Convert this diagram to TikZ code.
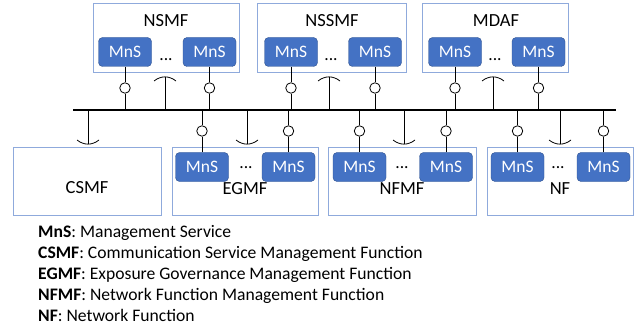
\documentclass[tikz,border=0pt]{standalone}
\usepackage{fontspec}
\setmainfont{Carlito}
\definecolor{boxline}{RGB}{143,170,220}
\definecolor{mnsfill}{RGB}{68,114,196}
\definecolor{mnsline}{RGB}{47,82,143}
\begin{document}
\begin{tikzpicture}[x=1pt,y=-1pt,
  outerbox/.style={draw=boxline,line width=1pt,fill=white},
  mns/.style={draw=mnsline,fill=mnsfill,rounded corners=4pt,minimum width=53pt,minimum height=29pt,text=white,font=\fontsize{17.5}{20}\selectfont,inner sep=0pt},
  lbl/.style={font=\fontsize{18.5}{21}\selectfont,inner sep=0pt},
  dotsl/.style={font=\fontsize{17.5}{20}\selectfont,inner sep=0pt},
  prov/.style={draw,circle,fill=white,minimum size=10.5pt,inner sep=0pt,line width=0.8pt},
  conn/.style={line width=0.8pt},
  legend/.style={anchor=base west,font=\fontsize{17.6}{20}\selectfont,inner sep=0pt}]
\useasboundingbox (0,0) rectangle (644,331);
% outer boxes
\node[outerbox,minimum width=146pt,minimum height=69pt,anchor=north west] (nsmf) at (93,3) {};
\node[outerbox,minimum width=149pt,minimum height=69pt,anchor=north west] (nssmf) at (257,3) {};
\node[outerbox,minimum width=146pt,minimum height=69pt,anchor=north west] (mdaf) at (422,3) {};
\node[outerbox,minimum width=148pt,minimum height=68pt,anchor=north west] (csmf) at (13,147) {};
\node[outerbox,minimum width=146pt,minimum height=68pt,anchor=north west] (egmf) at (172,147) {};
\node[outerbox,minimum width=148pt,minimum height=68pt,anchor=north west] (nfmf) at (328,147) {};
\node[outerbox,minimum width=146pt,minimum height=68pt,anchor=north west] (nf) at (487,147) {};
% labels
\node[lbl] (nsmfl) at (166,21) {NSMF};
\node[lbl] (nssmfl) at (332,21) {NSSMF};
\node[lbl] (mdafl) at (496,21) {MDAF};
\node[lbl] (csmfl) at (87,188) {CSMF};
\node[lbl] (egmfl) at (245,189) {EGMF};
\node[lbl] (nfmfl) at (402,189) {NFMF};
\node[lbl] (nfl) at (560,189) {NF};
% MnS top
\node[mns] (m1) at (125,52) {MnS};
\node[mns] (m2) at (209.5,52) {MnS};
\node[mns] (m3) at (291,52) {MnS};
\node[mns] (m4) at (375,52) {MnS};
\node[mns] (m5) at (455,52) {MnS};
\node[mns] (m6) at (538.5,52) {MnS};
% MnS bottom
\node[mns] (m7) at (202,167) {MnS};
\node[mns] (m8) at (288.5,167) {MnS};
\node[mns] (m9) at (359.5,167) {MnS};
\node[mns] (m10) at (446,167) {MnS};
\node[mns] (m11) at (517.5,167) {MnS};
\node[mns] (m12) at (603.5,167) {MnS};
% dots
\node[dotsl] (d1) at (166,60) {...};
\node[dotsl] (d2) at (331,60) {...};
\node[dotsl] (d3) at (495,60) {...};
\node[dotsl] (d4) at (246,168) {...};
\node[dotsl] (d5) at (402,168) {...};
\node[dotsl] (d6) at (558,168) {...};
% bus
\coordinate (busL) at (73,110);
\coordinate (busR) at (616,110);
\draw[line width=2.6pt] (busL) -- (busR);
% provided interfaces top
\foreach \n/\x in {1/125,2/209.5,3/291,4/375,5/455,6/538.5}{
  \coordinate (b\n) at (\x,110);
  \node[prov] (c\n) at (\x,88) {};
  \draw[conn] (m\n) -- (c\n) -- (b\n);
}
% provided interfaces bottom
\foreach \n/\x in {7/202,8/288.5,9/359.5,10/446,11/517.5,12/603.5}{
  \coordinate (b\n) at (\x,110);
  \node[prov] (c\n) at (\x,131) {};
  \draw[conn] (m\n) -- (c\n) -- (b\n);
}
% sockets top
\foreach \n/\x in {1/165,2/329,3/493}{
  \coordinate (s\n) at (\x,77);
  \coordinate (bs\n) at (\x,110);
  \draw[conn] (s\n) -- (bs\n);
  \draw[conn] ([xshift=-11pt,yshift=-4pt]s\n) .. controls ([xshift=-4pt,yshift=1.5pt]s\n) and ([xshift=4pt,yshift=1.5pt]s\n) .. ([xshift=11pt,yshift=-4pt]s\n);
}
% sockets bottom
\foreach \n/\x in {4/88,5/247,6/404,7/560}{
  \coordinate (s\n) at (\x,144);
  \coordinate (bs\n) at (\x,110);
  \draw[conn] (s\n) -- (bs\n);
  \draw[conn] ([xshift=-11pt,yshift=4pt]s\n) .. controls ([xshift=-4pt,yshift=-1.5pt]s\n) and ([xshift=4pt,yshift=-1.5pt]s\n) .. ([xshift=11pt,yshift=4pt]s\n);
}
% legend
\node[legend] (l1) at (38,237) {\textbf{MnS}: Management Service};
\node[legend] (l2) at (38,258.2) {\textbf{CSMF}: Communication Service Management Function};
\node[legend] (l3) at (38,279.4) {\textbf{EGMF}: Exposure Governance Management Function};
\node[legend] (l4) at (38,300.6) {\textbf{NFMF}: Network Function Management Function};
\node[legend] (l5) at (38,321.8) {\textbf{NF}: Network Function};
\end{tikzpicture}
\end{document}
